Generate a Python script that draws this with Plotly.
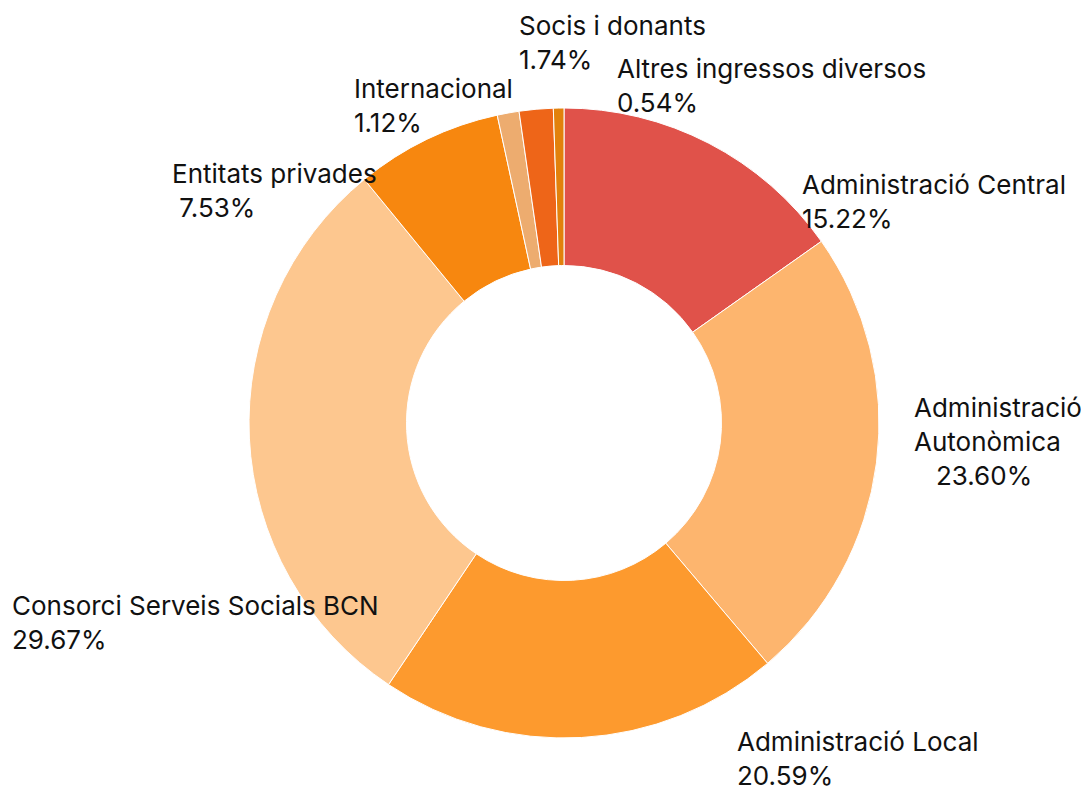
import plotly.graph_objects as go

labels = ["Administració Central", "Administració Autonòmica", "Administració Local",
          "Consorci Serveis Socials BCN", "Entitats privades", "Internacional",
          "Socis i donants", "Altres ingressos diversos"]
values = [15.22, 23.60, 20.59, 29.67, 7.53, 1.12, 1.74, 0.54]
colors = ["#E0524A", "#FDB56E", "#FD9A2E", "#FDC78F", "#F7870F", "#EDAC6F", "#EE6518", "#E2810C"]
label_texts = ["Administració Central", "Administració<br>Autonòmica", "Administració Local",
               "Consorci Serveis Socials BCN", "Entitats privades", "Internacional",
               "Socis i donants", "Altres ingressos diversos"]
pct_prefix = ["", "   ", "", "", " ", "", "", ""]
# label anchor positions (page pixels, left edge / vertical center of block)
label_pos = [(800, 201), (912, 441), (735, 758), (10, 622), (170, 190), (352, 106), (517, 42), (615, 86)]

W, H = 1089, 791
OFF = 8  # page body margin
cx, cy, R = 564 - OFF, 423 - OFF, 315

fig = go.Figure(go.Pie(
    labels=labels, values=values, sort=False, direction="clockwise", rotation=0,
    hole=0.5, textinfo="none", hoverinfo="label+percent",
    marker=dict(colors=colors, line=dict(color="white", width=1)),
    domain=dict(x=[(cx - R) / W, (cx + R) / W], y=[1 - (cy + R) / H, 1 - (cy - R) / H]),
    showlegend=False,
))

for t, p, v, (px, py) in zip(label_texts, pct_prefix, values, label_pos):
    fig.add_annotation(
        x=(px - OFF) / W, y=1 - (py - OFF) / H, xref="paper", yref="paper",
        xanchor="left", yanchor="middle", align="left", showarrow=False,
        text=f"{t}<br>{p}{v:.2f}%",
        font=dict(family="Inter", size=26, color="#111111"),
    )

fig.update_layout(width=W, height=H, margin=dict(l=0, r=0, t=0, b=0),
                  paper_bgcolor="white", plot_bgcolor="white")
fig.write_html("out.html")
